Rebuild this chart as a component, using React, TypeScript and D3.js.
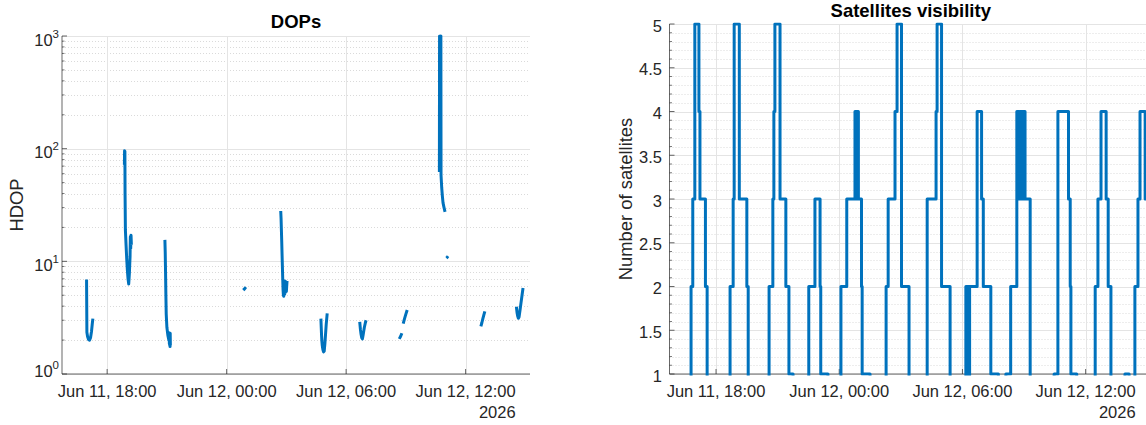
import React, { useEffect, useRef } from "react";
import * as d3 from "d3";

// times are "day HH:MM[:SS]" in June 2026; a null time / NaN value breaks the line
const HDOP_TIME: (string | null)[] = [
  "11 16:58", "11 16:59", "11 17:01", "11 17:04", "11 17:07", "11 17:10", "11 17:13", "11 17:15", "11 17:17",
  null,
  "11 18:52", "11 18:52:30", "11 18:53", "11 18:53:30", "11 18:54", "11 18:55", "11 18:57", "11 18:59", "11 19:01",
  "11 19:03", "11 19:05", "11 19:07", "11 19:09", "11 19:10", "11 19:11", "11 19:12", "11 19:13",
  null,
  "11 20:54", "11 20:55", "11 20:56", "11 20:57", "11 20:58", "11 21:00", "11 21:03", "11 21:06", "11 21:07",
  "11 21:07:30", "11 21:08", "11 21:08:30", "11 21:09", "11 21:09:30", "11 21:10", "11 21:10:30",
  null,
  "12 00:50", "12 00:54", "12 00:58",
  null,
  "12 02:43", "12 02:44", "12 02:45", "12 02:46", "12 02:47", "12 02:48", "12 02:49", "12 02:50", "12 02:51",
  "12 02:52", "12 02:53", "12 02:54", "12 02:55", "12 02:56", "12 02:57", "12 02:58", "12 03:00", "12 03:02",
  null,
  "12 04:44", "12 04:45", "12 04:46", "12 04:47", "12 04:48", "12 04:50", "12 04:52", "12 04:54", "12 04:56",
  "12 04:58", "12 05:00", "12 05:03",
  null,
  "12 06:41", "12 06:43", "12 06:45", "12 06:47", "12 06:49", "12 06:51", "12 06:53", "12 06:55", "12 06:58", "12 07:00",
  null,
  "12 08:40", "12 08:44", "12 08:48",
  null,
  "12 08:52", "12 08:56", "12 09:00", "12 09:04",
  null,
  "12 10:41", "12 10:41:30", "12 10:42", "12 10:42:30", "12 10:43", "12 10:43:30", "12 10:44", "12 10:44:30",
  "12 10:45", "12 10:45:30", "12 10:46", "12 10:48", "12 10:50", "12 10:52", "12 10:55", "12 10:58",
  null,
  "12 11:02", "12 11:05", "12 11:07",
  null,
  "12 12:46", "12 12:49", "12 12:52", "12 12:55", "12 12:58",
  null,
  "12 14:33", "12 14:35", "12 14:37", "12 14:39", "12 14:41", "12 14:44", "12 14:47", "12 14:50", "12 14:53",
];

const HDOP_VALUE: number[] = [
  6.9, 2.35, 2.15, 2.02, 2.0, 2.1, 2.4, 2.75, 3.1,
  NaN,
  72, 96, 75, 95, 40, 19, 14, 10.5, 8.3,
  7.0, 6.3, 7.8, 11, 16.5, 13, 17, 14,
  NaN,
  15.5, 12, 8, 5, 3.4, 2.6, 2.2, 2.0, 2.3,
  1.85, 2.3, 1.8, 2.3, 1.75, 2.3, 1.8,
  NaN,
  5.55, 5.7, 5.9,
  NaN,
  28, 24, 19, 15, 11.5, 9, 7, 5.6, 5.0,
  4.9, 5.2, 6.5, 5.1, 6.7, 5.3, 6.6, 5.4, 6.7,
  NaN,
  3.1, 2.6, 2.2, 1.95, 1.8, 1.65, 1.57, 1.6, 1.85,
  2.25, 2.75, 3.45,
  NaN,
  2.9, 2.5, 2.25, 2.1, 2.05, 2.2, 2.4, 2.6, 2.85, 3.0,
  NaN,
  2.05, 2.15, 2.3,
  NaN,
  2.8, 3.1, 3.4, 3.7,
  NaN,
  62, 1000, 64, 1000, 66, 1000, 70, 1000,
  65, 1000, 58, 45, 38, 33, 30, 27.5,
  NaN,
  10.7, 10.9, 11.1,
  NaN,
  2.65, 2.85, 3.1, 3.35, 3.6,
  NaN,
  3.95, 3.5, 3.25, 3.12, 3.2, 3.7, 4.3, 5.0, 5.8,
];

// number of satellites, each value holds until the next time (0 = below the axis)
const SAT_TIME: string[] = [
  "11 15:44", "11 16:47", "11 16:52", "11 16:58", "11 17:10", "11 17:13", "11 17:29", "11 17:34",
  "11 18:41", "11 18:50", "11 18:53", "11 19:08", "11 19:30", "11 19:34",
  "11 20:35", "11 20:46", "11 20:49", "11 20:52", "11 21:07", "11 21:24", "11 21:33", "11 21:45",
  "11 22:31", "11 22:49", "11 23:04", "11 23:06", "11 23:27",
  "12 00:05", "12 00:22", "12 00:46", "12 00:48", "12 00:49", "12 00:51", "12 00:52", "12 00:54", "12 00:55",
  "12 00:56", "12 01:05", "12 01:07", "12 01:30",
  "12 02:17", "12 02:23", "12 02:43", "12 02:49", "12 03:02", "12 03:24",
  "12 04:17", "12 04:43", "12 04:46", "12 04:59", "12 05:24",
  "12 06:10", "12 06:11", "12 06:12", "12 06:14", "12 06:15", "12 06:17", "12 06:18", "12 06:20", "12 06:21",
  "12 06:43", "12 06:56", "12 07:01", "12 07:23", "12 07:45",
  "12 08:07", "12 08:21", "12 08:39", "12 08:41", "12 08:43", "12 08:46", "12 08:48", "12 08:51", "12 08:53",
  "12 08:56", "12 08:58", "12 09:03", "12 09:18",
  "12 10:28", "12 10:39", "12 11:10", "12 11:15", "12 11:17", "12 11:34",
  "12 12:28", "12 12:36", "12 12:45", "12 13:00", "12 13:06", "12 13:14",
  "12 13:55", "12 14:07", "12 14:24", "12 14:33", "12 14:39", "12 14:54", "12 15:14",
];

const SAT_COUNT: number[] = [
  0, 2, 3, 5, 4, 3, 2, 0,
  2, 3, 5, 3, 2, 0,
  2, 3, 4, 5, 3, 2, 1, 0,
  2, 3, 2, 1, 0,
  2, 3, 4, 3, 4, 3, 4, 3, 4,
  3, 2, 1, 0,
  2, 3, 4, 5, 2, 0,
  3, 4, 5, 2, 0,
  2, 0, 2, 0, 2, 0, 2, 0, 2,
  4, 3, 2, 1, 0,
  1, 2, 4, 3, 4, 3, 4, 3, 4,
  3, 4, 3, 0,
  1, 4, 3, 2, 1, 0,
  2, 3, 4, 3, 2, 0,
  1, 0, 2, 3, 4, 3, 3,
];

const X_DOMAIN = ["11 15:44", "12 15:14"];
const X_TICKS = ["11 18:00", "12 00:00", "12 06:00", "12 12:00"];
const X_TICK_LABELS = ["Jun 11, 18:00", "Jun 12, 00:00", "Jun 12, 06:00", "Jun 12, 12:00"];
const X_YEAR = "2026";
const HDOP_TICKS = [1, 10, 100, 1000];
const HDOP_EXP = ["0", "1", "2", "3"];
const SAT_TICKS = [1, 1.5, 2, 2.5, 3, 3.5, 4, 4.5, 5];

const FONT = "'Liberation Sans', Arial, Helvetica, sans-serif";
const LINE = "#0072BD";
const INK = "#262626";

const parseT = (s: string) => {
  const [d, hms] = s.split(" ");
  const [h, m, sec] = hms.split(":").map(Number);
  return new Date(2026, 5, +d, h, m, sec || 0);
};

export default function App() {
  const svgRef = useRef<SVGSVGElement>(null);

  useEffect(() => {
    const svg = d3.select(svgRef.current);
    svg.selectAll("*").remove();

    const domain = X_DOMAIN.map(parseT);
    const ticks = X_TICKS.map(parseT);

    const left = { x0: 62, x1: 530, y0: 36, y1: 374 };
    const right = { x0: 669.5, x1: 1152, y0: 24, y1: 374 };

    const xL = d3.scaleTime().domain(domain).range([left.x0, left.x1]);
    const yL = d3.scaleLog().domain([1, 1000]).range([left.y1, left.y0]);
    const xR = d3.scaleTime().domain(domain).range([right.x0, right.x1]);
    const yR = d3.scaleLinear().domain([1, 5]).range([right.y1, right.y0]);

    const minorL: number[] = [];
    [1, 10, 100].forEach(k => d3.range(2, 10).forEach(m => minorL.push(m * k)));
    const minorR = d3.range(10, 51).map(d => d / 10).filter(d => Math.round(d * 10) % 5 !== 0);

    const panel = (box: any, x: any, y: any, major: number[], minor: number[], id: string) => {
      const g = svg.append("g");
      // minor grid (dotted)
      g.selectAll(".mg").data(minor).join("line")
        .attr("x1", box.x0).attr("x2", box.x1)
        .attr("y1", d => Math.round(y(d)) + 0.5).attr("y2", d => Math.round(y(d)) + 0.5)
        .attr("stroke", "#dadada").attr("stroke-width", 1).attr("stroke-dasharray", "1,2");
      // major grid
      g.selectAll(".gy").data(major).join("line")
        .attr("x1", box.x0).attr("x2", box.x1)
        .attr("y1", d => Math.round(y(d)) + 0.5).attr("y2", d => Math.round(y(d)) + 0.5)
        .attr("stroke", "#e4e4e4").attr("stroke-width", 1);
      g.selectAll(".gx").data(ticks).join("line")
        .attr("x1", d => Math.round(x(d)) + 0.5).attr("x2", d => Math.round(x(d)) + 0.5)
        .attr("y1", box.y0).attr("y2", box.y1)
        .attr("stroke", "#e4e4e4").attr("stroke-width", 1);

      // axis lines + inward ticks
      g.append("line").attr("x1", box.x0).attr("x2", box.x0).attr("y1", box.y0).attr("y2", box.y1)
        .attr("stroke", INK).attr("stroke-width", 0.7);
      g.append("line").attr("x1", box.x0).attr("x2", box.x1).attr("y1", box.y1).attr("y2", box.y1)
        .attr("stroke", INK).attr("stroke-width", 0.7);
      g.selectAll(".ty").data(major).join("line")
        .attr("x1", box.x0).attr("x2", box.x0 + 5)
        .attr("y1", d => y(d)).attr("y2", d => y(d))
        .attr("stroke", INK).attr("stroke-width", 0.7);
      g.selectAll(".tym").data(minor).join("line")
        .attr("x1", box.x0).attr("x2", box.x0 + 2.5)
        .attr("y1", d => y(d)).attr("y2", d => y(d))
        .attr("stroke", INK).attr("stroke-width", 0.6);
      g.selectAll(".tx").data(ticks).join("line")
        .attr("x1", d => x(d)).attr("x2", d => x(d))
        .attr("y1", box.y1).attr("y2", box.y1 - 5)
        .attr("stroke", INK).attr("stroke-width", 0.7);

      // x tick labels
      const labels = g.selectAll(".lx").data(ticks).join("text")
        .attr("x", d => x(d)).attr("y", 397)
        .attr("text-anchor", "middle")
        .attr("fill", INK).style("font-family", FONT).style("font-size", "16.5px")
        .text((_, i) => X_TICK_LABELS[i]);
      const lastNode = labels.nodes()[labels.size() - 1] as SVGTextElement;
      const lastW = lastNode.getComputedTextLength();
      g.append("text")
        .attr("x", x(ticks[ticks.length - 1]) + lastW / 2).attr("y", 418)
        .attr("text-anchor", "end")
        .attr("fill", INK).style("font-family", FONT).style("font-size", "16.5px")
        .text(X_YEAR);

      // clip for data
      svg.append("clipPath").attr("id", id).append("rect")
        .attr("x", box.x0).attr("y", box.y0 - 1.5)
        .attr("width", box.x1 - box.x0).attr("height", box.y1 - box.y0 + 3);
      return g;
    };

    // ---- DOPs ----
    const gL = panel(left, xL, yL, HDOP_TICKS, minorL, "clipL");
    gL.selectAll(".ly").data(HDOP_TICKS).join("text")
      .attr("x", left.x0 - 3).attr("y", (d, i) => yL(d) + (i === 0 ? 3 : 9.5))
      .attr("text-anchor", "end")
      .attr("fill", INK).style("font-family", FONT).style("font-size", "16.5px")
      .each(function (d, i) {
        const t = d3.select(this);
        t.append("tspan").text("10");
        t.append("tspan").attr("dy", -8).style("font-size", "11.5px").text(HDOP_EXP[i]);
      });
    gL.append("text")
      .attr("transform", `translate(23,${(left.y0 + left.y1) / 2}) rotate(-90)`)
      .attr("text-anchor", "middle")
      .attr("fill", INK).style("font-family", FONT).style("font-size", "18.4px")
      .text("HDOP");
    svg.append("text")
      .attr("x", (left.x0 + left.x1) / 2).attr("y", 28)
      .attr("text-anchor", "middle")
      .attr("fill", "#000").style("font-family", FONT).style("font-size", "18.5px").style("font-weight", "bold")
      .text("DOPs");

    const hdop = HDOP_TIME.map((t, i) => ({ t: t ? parseT(t) : null, v: HDOP_VALUE[i] }));
    const lineL = d3.line<any>()
      .defined(d => d.t !== null && !isNaN(d.v))
      .x(d => xL(d.t)).y(d => yL(d.v));
    svg.append("path")
      .datum(hdop)
      .attr("clip-path", "url(#clipL)")
      .attr("d", lineL)
      .attr("fill", "none").attr("stroke", LINE).attr("stroke-width", 3)
      .attr("stroke-linejoin", "round");

    // ---- Satellites visibility ----
    const gR = panel(right, xR, yR, SAT_TICKS, minorR, "clipR");
    gR.selectAll(".ly").data(SAT_TICKS).join("text")
      .attr("x", right.x0 - 7.5).attr("y", d => yR(d) + 7.5)
      .attr("text-anchor", "end")
      .attr("fill", INK).style("font-family", FONT).style("font-size", "16.5px")
      .text(d => String(d));
    gR.append("text")
      .attr("transform", `translate(631.5,${(right.y0 + right.y1) / 2}) rotate(-90)`)
      .attr("text-anchor", "middle")
      .attr("fill", INK).style("font-family", FONT).style("font-size", "18.4px")
      .text("Number of satellites");
    svg.append("text")
      .attr("x", (right.x0 + right.x1) / 2).attr("y", 17)
      .attr("text-anchor", "middle")
      .attr("fill", "#000").style("font-family", FONT).style("font-size", "18.5px").style("font-weight", "bold")
      .text("Satellites visibility");

    const sats = SAT_TIME.map((t, i) => ({ t: parseT(t), v: SAT_COUNT[i] }));
    const lineR = d3.line<any>()
      .curve(d3.curveStepAfter)
      .x(d => xR(d.t)).y(d => yR(d.v));
    svg.append("path")
      .datum(sats)
      .attr("clip-path", "url(#clipR)")
      .attr("d", lineR)
      .attr("fill", "none").attr("stroke", LINE).attr("stroke-width", 3)
      .attr("stroke-linejoin", "round");
  }, []);

  return (
    <div style={{ width: 1146, height: 425, overflow: "hidden" }}>
      <style>{`body{margin:0;background:#fff}`}</style>
      <svg ref={svgRef} width={1146} height={425} style={{ display: "block" }} />
    </div>
  );
}
